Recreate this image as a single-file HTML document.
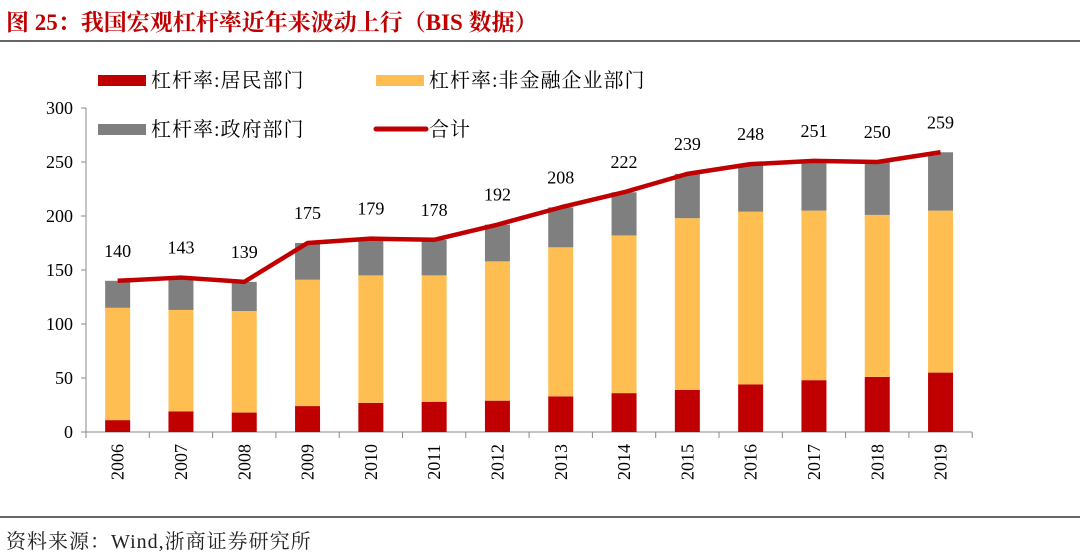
<!DOCTYPE html>
<html><head><meta charset="utf-8"><style>
body{margin:0;width:1080px;height:559px;background:#fff;overflow:hidden;font-family:"Liberation Serif","Noto Serif CJK SC",serif}
#title{position:absolute;left:6px;top:4px;font-size:23px;font-weight:bold;color:#C00000;font-family:"Liberation Serif","Noto Serif CJK SC",serif}
svg text{font-family:"Liberation Serif","Noto Serif CJK SC",serif}
</style></head><body>
<div id="title">图 25：我国宏观杠杆率近年来波动上行（BIS 数据）</div>
<svg id="c" width="1080" height="559" style="position:absolute;left:0;top:0"></svg>
<script>
const years=["2006","2007","2008","2009","2010","2011","2012","2013","2014","2015","2016","2017","2018","2019"];
const household=[11,19,18,24,27,28,29,33,36,39,44,48,51,55];
const corporate=[104,94,94,117,118,117,129,138,146,159,160,157,150,150];
const government=[25,30,27,34,34,33,34,37,40,41,44,46,49,54];
const totals=[140,143,139,175,179,178,192,208,222,239,248,251,250,259];
const yTicks=[0,50,100,150,200,250,300];
const NS="http://www.w3.org/2000/svg",svg=document.getElementById('c');
const x0=86,band=63.3,bw=25,yb=432,k=1.08;
const X=i=>x0+band*(i+0.5), Y=v=>yb-v*k;
function el(t,a,p){const e=document.createElementNS(NS,t);for(const n in a)e.setAttribute(n,a[n]);(p||svg).appendChild(e);return e;}
el('line',{x1:0,y1:41,x2:1080,y2:41,stroke:'#333','stroke-width':1.5});
el('line',{x1:0,y1:517,x2:1080,y2:517,stroke:'#333','stroke-width':1.5});
const src=el('text',{x:6,y:548,'font-size':20,fill:'#222','letter-spacing':1});src.textContent='资料来源：Wind,浙商证券研究所';


el('line',{x1:x0,y1:Y(300),x2:x0,y2:yb,stroke:'#888'});
el('line',{x1:x0,y1:yb,x2:x0+band*years.length,y2:yb,stroke:'#888'});
yTicks.forEach(v=>{el('line',{x1:x0-5,y1:Y(v),x2:x0,y2:Y(v),stroke:'#888'});
 const t=el('text',{x:x0-13,y:Y(v)+6,'font-size':18,'text-anchor':'end',fill:'#000'});t.textContent=v;
 
 });
for(let i=0;i<=years.length;i++)el('line',{x1:x0+band*i,y1:yb,x2:x0+band*i,y2:yb+6,stroke:'#888'});
years.forEach((y,i)=>{
 const c=X(i);let b=0;
 [[household,'#C00000','household'],[corporate,'#FFBE52','corporate'],[government,'#7F7F7F','government']].forEach(([arr,col,nm])=>{
  const r=el('rect',{x:c-bw/2,y:Y(b+arr[i]),width:bw,height:arr[i]*k,fill:col});
  
  
  b+=arr[i];});
 const t=el('text',{x:0,y:0,'font-size':18,'text-anchor':'middle',transform:`translate(${c+6},${yb+30}) rotate(-90)`});t.textContent=y;
 
 
 const l=el('text',{x:c,y:Y(totals[i])-24,'font-size':18,'text-anchor':'middle'});l.textContent=totals[i];
 
 
});
const pl=el('polyline',{points:totals.map((v,i)=>X(i)+','+Y(v)).join(' '),fill:'none',stroke:'#C00000','stroke-width':4.5,'stroke-linejoin':'round'});


const leg=[[98,86,'#C00000','杠杆率:居民部门',0],[376,86,'#FFBE52','杠杆率:非金融企业部门',0],[98,135,'#7F7F7F','杠杆率:政府部门',0],[376,135,'#C00000','合计',1]];
leg.forEach(([lx,ly,col,txt,line])=>{
 const g=el('g',{});
 
 
 if(line)el('line',{x1:lx,y1:ly-6,x2:lx+50,y2:ly-6,stroke:col,'stroke-width':5,'stroke-linecap':'round'},g);
 else el('rect',{x:lx,y:ly-11,width:48,height:11,fill:col},g);
 const t=el('text',{x:lx+53,y:ly+1,'font-size':20,'letter-spacing':1},g);t.textContent=txt;});
</script>
</body></html>
